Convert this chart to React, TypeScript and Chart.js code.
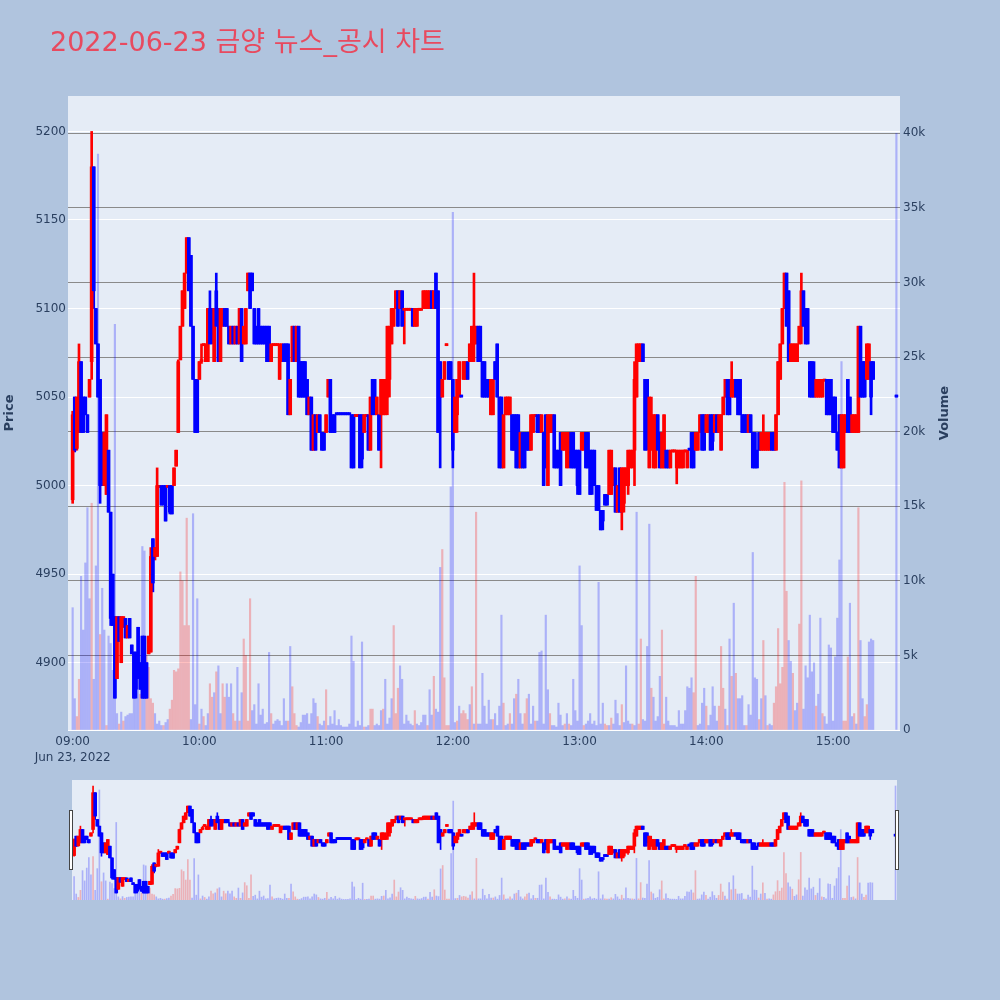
import React, { useEffect, useRef } from "react";
import { Chart, registerables } from "chart.js";

Chart.register(...registerables);

const TITLE = "2022-06-23 금양 뉴스_공시 차트";
const PRICE_TITLE = "Price";
const VOLUME_TITLE = "Volume";

// minute offsets from 09:00 (one candle per minute, plus the 15:30 closing auction)
const minutes: number[] = [...Array.from({ length: 380 }, (_, i) => i), 390];

const opens = [
  4992,5050,5021,5030,5070,5050,5050,5040,5050,5070,
  5180,5100,5080,5060,5030,5000,4995,5020,4985,4950,
  4926,4891,4926,4900,4920,4925,4914,4925,4910,4906,
  4906,4920,4900,4915,4915,4900,4905,4906,4970,4960,
  4960,4999,5000,5000,5000,4999,5000,5000,5000,5011,
  5030,5071,5090,5100,5120,5140,5130,5090,5060,5060,
  5060,5070,5079,5070,5070,5100,5100,5070,5110,5100,
  5070,5090,5100,5100,5090,5080,5090,5080,5090,5080,
  5100,5080,5080,5110,5120,5120,5100,5090,5100,5090,
  5090,5090,5090,5090,5070,5079,5079,5079,5060,5070,
  5080,5080,5080,5040,5070,5090,5070,5090,5070,5070,
  5070,5060,5040,5050,5020,5040,5030,5040,5030,5030,
  5030,5050,5060,5040,5040,5040,5040,5040,5040,5040,
  5040,5040,5040,5040,5039,5039,5040,5040,5030,5039,
  5040,5020,5060,5060,5040,5040,5040,5040,5040,5050,
  5060,5080,5090,5100,5110,5100,5110,5099,5099,5099,
  5099,5100,5090,5090,5099,5099,5100,5100,5100,5100,
  5110,5100,5120,5110,5070,5050,5060,5079,5070,5070,
  5060,5030,5040,5050,5050,5060,5060,5070,5070,5070,
  5080,5080,5090,5090,5070,5070,5060,5060,5040,5040,
  5070,5080,5050,5050,5010,5040,5040,5040,5040,5040,
  5040,5040,5010,5030,5030,5030,5030,5020,5030,5039,
  5040,5040,5030,5030,5040,5000,5030,5030,5040,5020,
  5020,5030,5020,5020,5010,5020,5030,5030,5020,5020,
  5020,5020,5020,5030,5030,5020,5020,5020,5000,5000,
  4986,4986,4995,4995,4995,4995,5000,5010,4985,5010,
  4985,4990,5000,5000,5010,5010,5020,5050,5070,5070,
  5080,5060,5060,5010,5020,5010,5010,5040,5030,5010,
  5010,5020,5020,5010,5019,5019,5010,5010,5010,5010,
  5019,5010,5020,5030,5030,5020,5020,5030,5040,5040,
  5030,5030,5040,5040,5030,5040,5030,5020,5040,5050,
  5060,5060,5050,5050,5060,5060,5060,5040,5040,5040,
  5030,5040,5030,5030,5020,5030,5020,5020,5020,5020,
  5020,5030,5030,5020,5040,5060,5080,5100,5120,5110,
  5070,5070,5070,5070,5080,5090,5110,5100,5100,5070,
  5070,5060,5050,5050,5050,5050,5059,5060,5060,5060,
  5050,5050,5030,5040,5010,5010,5030,5060,5050,5030,
  5030,5030,5030,5090,5070,5070,5060,5060,5070,5070,
  5050,
];

const highs = [
  5042,5050,5050,5080,5070,5050,5050,5040,5060,5200,
  5180,5100,5080,5060,5030,5030,5040,5020,4985,4950,
  4926,4926,4926,4926,4926,4925,4921,4925,4910,4906,
  4906,4920,4900,4915,4915,4900,4915,4965,4970,4965,
  5010,5000,5000,5000,5000,5000,5000,5000,5010,5020,
  5071,5090,5110,5120,5140,5140,5130,5090,5060,5060,
  5070,5080,5080,5080,5100,5110,5100,5100,5120,5100,
  5100,5100,5100,5100,5090,5090,5090,5090,5090,5100,
  5100,5090,5100,5120,5120,5120,5100,5090,5100,5090,
  5090,5090,5090,5090,5080,5080,5080,5080,5080,5080,
  5080,5080,5080,5060,5090,5090,5090,5090,5070,5070,
  5070,5060,5050,5050,5040,5040,5040,5040,5030,5030,
  5040,5060,5060,5040,5040,5040,5040,5040,5040,5040,
  5040,5040,5040,5040,5040,5040,5040,5040,5040,5040,
  5040,5050,5060,5060,5050,5040,5060,5060,5060,5090,
  5090,5100,5100,5110,5110,5110,5110,5100,5100,5100,
  5100,5100,5100,5100,5100,5100,5110,5110,5110,5110,
  5110,5110,5120,5110,5070,5060,5070,5080,5070,5070,
  5060,5050,5060,5070,5050,5070,5070,5070,5080,5090,
  5120,5090,5090,5090,5070,5070,5060,5060,5060,5060,
  5070,5080,5050,5050,5040,5050,5050,5050,5040,5040,
  5040,5040,5030,5030,5030,5030,5030,5040,5040,5040,
  5040,5040,5040,5030,5040,5040,5040,5040,5040,5020,
  5020,5030,5030,5030,5030,5030,5030,5030,5020,5020,
  5020,5030,5030,5030,5030,5020,5020,5020,5000,5000,
  4986,4986,4995,4995,5020,5020,5010,5010,5000,5010,
  5010,5010,5010,5020,5020,5020,5070,5080,5080,5080,
  5080,5060,5060,5050,5050,5040,5040,5040,5030,5030,
  5040,5020,5020,5020,5020,5020,5020,5020,5020,5020,
  5020,5020,5020,5030,5030,5030,5030,5040,5040,5040,
  5040,5040,5040,5040,5040,5040,5040,5040,5050,5060,
  5060,5060,5070,5060,5060,5060,5060,5040,5040,5040,
  5040,5040,5030,5030,5020,5030,5030,5040,5030,5030,
  5030,5030,5030,5040,5070,5080,5100,5120,5120,5110,
  5080,5080,5080,5080,5090,5120,5110,5100,5100,5070,
  5070,5070,5060,5060,5060,5060,5060,5060,5060,5060,
  5050,5050,5030,5040,5040,5040,5040,5060,5050,5040,
  5040,5040,5090,5090,5070,5070,5080,5080,5070,5070,
  5050,
];

const lows = [
  4990,5019,5020,5030,5030,5030,5040,5030,5050,5060,
  5100,5080,5050,4990,5000,5000,4995,4985,4921,4921,
  4880,4891,4912,4900,4920,4914,4914,4914,4905,4880,
  4880,4891,4885,4880,4880,4880,4905,4906,4940,4958,
  4960,4999,4989,4989,4980,4999,4984,4984,5000,5011,
  5030,5071,5090,5100,5120,5110,5090,5060,5030,5030,
  5060,5069,5079,5070,5070,5080,5080,5070,5090,5070,
  5070,5090,5090,5090,5080,5080,5080,5080,5080,5080,
  5070,5080,5080,5110,5100,5110,5080,5080,5080,5080,
  5080,5080,5070,5070,5070,5079,5079,5079,5060,5070,
  5070,5070,5040,5040,5070,5070,5070,5050,5050,5050,
  5050,5040,5040,5020,5020,5020,5030,5030,5020,5020,
  5030,5050,5030,5030,5030,5040,5040,5040,5040,5040,
  5040,5040,5010,5010,5039,5039,5010,5010,5030,5039,
  5020,5020,5040,5040,5040,5020,5010,5040,5040,5040,
  5050,5080,5090,5100,5090,5100,5090,5080,5099,5099,
  5099,5090,5090,5090,5099,5099,5100,5100,5100,5100,
  5100,5100,5100,5030,5010,5050,5060,5079,5060,5060,
  5010,5030,5030,5050,5050,5060,5060,5060,5070,5070,
  5070,5080,5070,5070,5050,5050,5050,5050,5040,5040,
  5060,5050,5010,5010,5010,5040,5040,5040,5020,5020,
  5010,5010,5010,5010,5010,5020,5020,5020,5030,5039,
  5030,5030,5030,5000,5010,5000,5030,5030,5010,5010,
  5010,5000,5020,5020,5010,5010,5010,5010,5010,4995,
  4995,5020,5020,5010,5010,4995,4995,5000,4986,4986,
  4975,4975,4989,4989,4995,4995,5000,4985,4985,4985,
  4975,4985,5000,4995,5010,5010,5000,5050,5070,5070,
  5070,5020,5020,5010,5020,5010,5010,5020,5010,5010,
  5010,5010,5010,5010,5019,5019,5001,5010,5010,5010,
  5019,5010,5020,5010,5010,5020,5020,5030,5020,5020,
  5030,5030,5020,5020,5030,5030,5030,5020,5040,5050,
  5040,5040,5050,5050,5050,5040,5040,5030,5030,5030,
  5030,5030,5010,5010,5010,5020,5020,5020,5020,5020,
  5020,5020,5020,5020,5040,5060,5080,5100,5090,5070,
  5070,5070,5070,5070,5080,5080,5090,5080,5080,5050,
  5050,5050,5050,5050,5050,5050,5059,5040,5040,5040,
  5030,5030,5020,5010,5010,5010,5030,5030,5030,5030,
  5030,5030,5030,5050,5050,5050,5060,5060,5040,5060,
  5050,
];

const closes = [
  5040,5020,5050,5070,5030,5030,5040,5030,5060,5180,
  5110,5080,5050,5000,5000,5030,5040,4985,4925,4921,
  4880,4926,4912,4926,4926,4914,4921,4914,4905,4880,
  4885,4895,4885,4880,4880,4880,4915,4960,4945,4965,
  5000,5000,4989,4990,4980,5000,4985,4984,5010,5020,
  5070,5090,5110,5120,5140,5110,5090,5060,5030,5030,
  5070,5071,5080,5080,5100,5080,5085,5100,5090,5070,
  5100,5100,5090,5090,5080,5090,5080,5090,5080,5100,
  5070,5090,5100,5120,5100,5110,5080,5080,5080,5080,
  5080,5080,5070,5075,5080,5080,5080,5080,5080,5080,
  5070,5070,5040,5060,5090,5070,5090,5050,5050,5050,
  5050,5040,5050,5020,5040,5020,5040,5030,5020,5020,
  5040,5060,5030,5030,5030,5040,5040,5040,5040,5040,
  5040,5040,5010,5010,5040,5040,5010,5015,5040,5040,
  5020,5050,5040,5045,5050,5020,5060,5060,5050,5090,
  5090,5100,5100,5110,5090,5110,5090,5100,5100,5100,
  5100,5090,5100,5100,5100,5100,5110,5110,5110,5110,
  5100,5110,5100,5030,5050,5060,5070,5080,5060,5060,
  5020,5050,5060,5070,5050,5070,5070,5060,5080,5090,
  5090,5090,5070,5070,5050,5050,5050,5050,5060,5060,
  5060,5050,5010,5010,5040,5050,5050,5050,5020,5020,
  5010,5010,5030,5010,5010,5020,5020,5040,5040,5040,
  5030,5030,5040,5000,5010,5040,5040,5040,5010,5010,
  5010,5000,5030,5030,5030,5030,5010,5010,5010,5000,
  4995,5030,5030,5010,5010,4995,5000,5000,4986,4986,
  4975,4980,4989,4989,5020,5020,5010,4985,5000,4985,
  5010,5010,5010,5020,5020,5020,5060,5080,5080,5080,
  5070,5020,5030,5050,5040,5040,5040,5020,5010,5030,
  5040,5010,5010,5020,5020,5020,5020,5020,5020,5020,
  5020,5020,5020,5010,5010,5030,5030,5040,5020,5020,
  5040,5040,5020,5025,5040,5030,5040,5040,5050,5060,
  5040,5040,5060,5060,5050,5040,5040,5030,5030,5030,
  5040,5030,5010,5010,5010,5020,5030,5030,5030,5030,
  5030,5020,5020,5040,5070,5080,5100,5120,5090,5070,
  5080,5080,5080,5080,5090,5110,5090,5080,5080,5050,
  5050,5050,5060,5060,5060,5060,5060,5040,5040,5040,
  5030,5030,5020,5010,5040,5040,5040,5030,5030,5040,
  5040,5040,5090,5050,5050,5050,5080,5080,5050,5060,
  5050,
];

const volumes = [
  8200,2100,900,3400,10300,6700,11200,14900,8800,15200,
  3400,11000,38600,6400,9500,6700,300,6300,5800,4000,
  27200,1100,400,1200,600,900,1000,1100,1100,3500,
  2500,2700,2400,12300,12000,5000,4200,2100,1800,1100,
  400,600,300,300,500,700,1400,2000,4000,3900,
  4100,10600,10000,7000,14200,7000,700,14500,1700,8800,
  400,1400,900,300,1100,3100,2200,2500,3900,4300,
  1100,3100,2200,3100,2200,3100,1100,600,4200,600,
  2500,6100,5000,600,8800,1300,1700,400,3100,1000,
  1400,400,500,5200,1100,400,600,700,600,300,
  2100,600,600,5600,2900,1100,300,200,500,1000,
  1000,1100,400,1100,2100,1800,900,400,300,600,
  2700,300,900,400,1300,300,700,300,200,200,
  200,400,6300,4600,200,600,300,5900,200,200,
  300,1400,1400,300,400,300,1300,1400,3400,400,
  800,2100,7000,1100,2800,4300,3400,400,1000,600,
  400,300,1300,400,300,500,1000,1000,300,2700,
  1000,3600,1400,1200,10900,12100,3500,300,300,16300,
  34700,500,600,1600,1100,1300,1100,700,1700,2900,
  400,14600,400,400,3800,1600,400,2000,700,700,
  1100,300,1600,7700,1800,300,400,1100,400,2100,
  2400,3400,1100,400,1100,2100,2400,400,1600,600,
  600,5200,5300,400,7700,2700,1100,300,300,200,
  1800,1000,300,400,1100,400,300,3400,1300,600,
  11000,7000,300,400,600,1100,400,600,300,9900,
  400,1800,400,300,300,800,400,2000,1100,300,
  1700,500,4300,600,400,400,300,14600,400,6100,
  700,600,5600,13800,2800,2200,600,900,3600,6700,
  400,2200,600,300,300,300,200,1300,400,400,
  1300,2900,2800,3500,2500,10300,300,400,1800,2800,
  1600,300,1000,2900,1600,600,1600,5600,2800,1400,
  300,6100,3600,8500,3800,2100,2100,2300,300,300,
  1700,1000,11900,3500,3400,700,2100,6000,2300,300,
  400,300,1800,2900,6800,3100,4200,16600,9300,6000,
  4600,3800,1300,1800,7100,16700,1400,4300,3500,7700,
  3900,4500,1600,2400,7500,1100,900,400,5700,5500,
  600,4900,7500,11400,24700,600,600,4900,8500,900,
  1100,400,14900,6000,2100,900,1700,5900,6100,6000,
  40000,
];

// r = rising (red) volume bar, b = falling (blue) volume bar
const volumeDir = (
  "bbrrbbbbbr" + "bbbrbbrbbb" + "bbrbrbbbbb" + "bbrbbrrrrb" + "bbbrbbrrrr" +
  "rrrrrrbbbb" + "rbrbbrrbrb" + "brrbbbrrbr" + "brrrrbbbbb" + "bbbbrbbbbb" +
  "bbrbrrrbbb" + "bbbbbbrbbb" + "rbbbbbbbbb" + "bbbbbbbbrb" + "brrbbbbrbb" +
  "bbrrrbbbbb" + "bbrbbbbbrb" + "brbbbrrrrb" + "bbrbrrrrbr" + "brbbbbbbbr" +
  "bbbbrbbrbb" + "rbbbrrbbbr" + "bbbbbbrbbb" + "bbbrbrbbbb" + "bbrbbbbbbb" +
  "bbrrbrbbbb" + "rbbbbrbbrr" + "bbbbrbbbbr" + "rbbbbbbbbb" + "bbbbrrbbbb" +
  "rbbbbbrrrb" + "rbrbrbbbbr" + "bbbbbrbrbr" + "bbrrrrrrrb" + "brbbrrbbbb" +
  "bbrbbrbbbb" + "bbbbbrrrbb" + "rbrbbrrbbb" + "b"
).split("");

const timeTicks = [0, 60, 120, 180, 240, 300, 360];
const timeLabels = ["09:00", "10:00", "11:00", "12:00", "13:00", "14:00", "15:00"];
const dateLabel = "Jun 23, 2022";
const priceTicks = [4900, 4950, 5000, 5050, 5100, 5150, 5200];
const volumeTicks = [0, 5000, 10000, 15000, 20000, 25000, 30000, 35000, 40000];
const volumeTickLabels = ["0", "5k", "10k", "15k", "20k", "25k", "30k", "35k", "40k"];

const FONT = "'DejaVu Sans', 'Noto Sans CJK KR', sans-serif";
const TEXT = "#2a3f5f";
const TITLE_COLOR = "#e84a5f";
const PAGE_BG = "#b0c4de";
const PLOT_BG = "#e5ecf6";
const RED = "#ff0000";
const BLUE = "#0000ff";
const VOL_RED = "rgba(255,0,0,0.25)";
const VOL_BLUE = "rgba(0,0,255,0.25)";

function checkData() {
  const n = minutes.length;
  const lens = [opens.length, highs.length, lows.length, closes.length, volumes.length, volumeDir.length];
  if (lens.some((l) => l !== n)) {
    throw new Error("length mismatch " + n + " " + lens.join(","));
  }
}

function buildDatasets(bodyW: number, wickW: number, volW: number): any[] {
  const colors = minutes.map((_, i) => (closes[i] > opens[i] ? RED : BLUE));
  return [
    {
      label: "Volume",
      yAxisID: "yv",
      data: minutes.map((m, i) => ({ x: m, y: volumes[i] })),
      backgroundColor: volumeDir.map((d) => (d === "r" ? VOL_RED : VOL_BLUE)),
      barThickness: volW,
      grouped: false,
      order: 3,
    },
    {
      label: "High-Low",
      yAxisID: "y",
      data: minutes.map((m, i) => ({ x: m, y: [lows[i], highs[i]] })),
      backgroundColor: colors,
      barThickness: wickW,
      minBarLength: 2,
      grouped: false,
      order: 2,
    },
    {
      label: "Open-Close",
      yAxisID: "y",
      data: minutes.map((m, i) => ({ x: m, y: [opens[i], closes[i]] })),
      backgroundColor: colors,
      barThickness: bodyW,
      minBarLength: 2,
      grouped: false,
      order: 1,
    },
  ];
}

const bgPlugin = {
  id: "plotBg",
  beforeDraw(chart: any) {
    const { ctx, chartArea } = chart;
    ctx.save();
    ctx.fillStyle = PLOT_BG;
    ctx.fillRect(chartArea.left, chartArea.top, chartArea.right - chartArea.left, chartArea.bottom - chartArea.top);
    ctx.restore();
  },
};

const textPlugin = {
  id: "texts",
  afterDraw(chart: any) {
    const { ctx, chartArea } = chart;
    ctx.save();
    ctx.fillStyle = TITLE_COLOR;
    ctx.font = `27px ${FONT}`;
    ctx.textAlign = "left";
    ctx.textBaseline = "alphabetic";
    ctx.fillText(TITLE, 50, 50.5);
    ctx.fillStyle = TEXT;
    ctx.font = `bold 13px ${FONT}`;
    ctx.textAlign = "center";
    ctx.textBaseline = "middle";
    const mid = (chartArea.top + chartArea.bottom) / 2;
    const items: [string, number][] = [
      [PRICE_TITLE, 10],
      [VOLUME_TITLE, 945],
    ];
    items.forEach(([t, x]) => {
      ctx.save();
      ctx.translate(x, mid);
      ctx.rotate(-Math.PI / 2);
      ctx.fillText(t, 0, 0);
      ctx.restore();
    });
    ctx.restore();
  },
};

const handlePlugin = {
  id: "handles",
  afterDraw(chart: any) {
    const { ctx } = chart;
    ctx.save();
    ctx.fillStyle = "#ffffff";
    ctx.strokeStyle = "#444444";
    ctx.lineWidth = 1;
    [69.5, 895.5].forEach((x) => {
      ctx.fillRect(x, 40.5, 3, 59);
      ctx.strokeRect(x, 40.5, 3, 59);
    });
    ctx.restore();
  },
};

export default function App() {
  const mainRef = useRef<HTMLCanvasElement | null>(null);
  const sliderRef = useRef<HTMLCanvasElement | null>(null);

  useEffect(() => {
    checkData();
    Chart.defaults.font.family = FONT;
    const main = new Chart(mainRef.current as HTMLCanvasElement, {
      type: "bar",
      data: { datasets: buildDatasets(3, 2, 1.5) },
      options: {
        responsive: false,
        animation: false,
        events: [],
        layout: { padding: { top: 96, left: 0, right: 0, bottom: 0 } },
        plugins: { legend: { display: false }, tooltip: { enabled: false } },
        scales: {
          x: {
            type: "linear",
            min: -2.2,
            max: 391.7,
            offset: false,
            afterBuildTicks: (s: any) => {
              s.ticks = timeTicks.map((v) => ({ value: v }));
            },
            afterFit: (s: any) => {
              s.height = 50;
            },
            grid: { display: false, drawTicks: false },
            border: { display: false },
            ticks: {
              autoSkip: false,
              maxRotation: 0,
              padding: 4,
              color: TEXT,
              font: { size: 12, lineHeight: 1.3 },
              callback: (v: any) => {
                const i = timeTicks.indexOf(Number(v));
                return i === 0 ? [timeLabels[0], dateLabel] : timeLabels[i];
              },
            },
          },
          y: {
            type: "linear",
            position: "left",
            min: 4862,
            max: 5220,
            beginAtZero: false,
            afterBuildTicks: (s: any) => {
              s.ticks = priceTicks.map((v) => ({ value: v }));
            },
            afterFit: (s: any) => {
              s.width = 68;
            },
            grid: { color: "#ffffff", drawTicks: false },
            border: { display: false },
            ticks: { padding: 2, color: TEXT, font: { size: 12 }, callback: (v: any) => String(v) },
          },
          yv: {
            type: "linear",
            position: "right",
            min: 0,
            max: 42500,
            afterBuildTicks: (s: any) => {
              s.ticks = volumeTicks.map((v) => ({ value: v }));
            },
            afterFit: (s: any) => {
              s.width = 100;
            },
            grid: {
              color: (c: any) => (c.tick && c.tick.value === 0 ? "#ffffff" : "#8a8a8a"),
              drawTicks: false,
            },
            border: { display: false },
            ticks: {
              padding: 3,
              color: TEXT,
              font: { size: 12 },
              callback: (v: any) => volumeTickLabels[volumeTicks.indexOf(Number(v))],
            },
          },
        },
      } as any,
      plugins: [bgPlugin, textPlugin],
    });

    const slider = new Chart(sliderRef.current as HTMLCanvasElement, {
      type: "bar",
      data: { datasets: buildDatasets(3, 1, 1) },
      options: {
        responsive: false,
        animation: false,
        events: [],
        layout: { padding: { left: 72, right: 103, top: 10, bottom: 10 } },
        plugins: { legend: { display: false }, tooltip: { enabled: false } },
        scales: {
          x: { type: "linear", min: -1, max: 390.7, offset: false, display: false },
          y: { type: "linear", min: 4859, max: 5218, beginAtZero: false, display: false },
          yv: { type: "linear", position: "right", min: 0, max: 42100, display: false },
        },
      } as any,
      plugins: [bgPlugin, handlePlugin],
    });

    return () => {
      main.destroy();
      slider.destroy();
    };
  }, []);

  return (
    <div
      style={{
        position: "absolute",
        left: 0,
        top: 0,
        width: 1000,
        height: 1000,
        background: PAGE_BG,
        overflow: "hidden",
      }}
    >
      <canvas
        ref={mainRef}
        width={1000}
        height={780}
        style={{ position: "absolute", left: 0, top: 0, width: 1000, height: 780 }}
      />
      <canvas
        ref={sliderRef}
        width={1000}
        height={140}
        style={{ position: "absolute", left: 0, top: 770, width: 1000, height: 140 }}
      />
    </div>
  );
}
